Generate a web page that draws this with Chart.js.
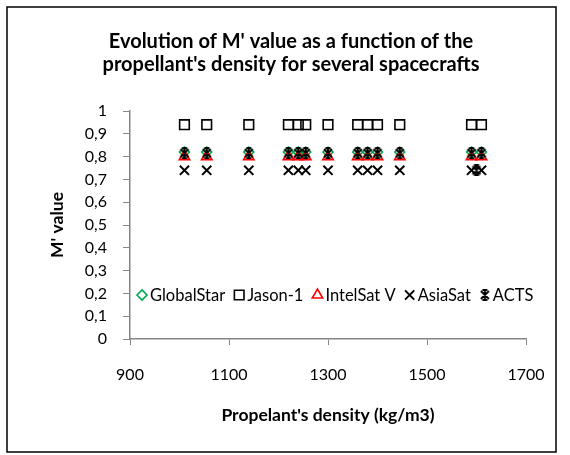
<!DOCTYPE html>
<html>
<head>
<meta charset="utf-8">
<script src="https://cdn.jsdelivr.net/npm/chart.js@4.4.0/dist/chart.umd.min.js"></script>
<style>
  html, body { margin: 0; padding: 0; background: #fff; }
  #wrap { width: 570px; height: 455px; }
</style>
</head>
<body>
<div id="wrap"><canvas id="chart" width="570" height="455"></canvas></div>
<script>
// propellant densities (kg/m3), shared by every spacecraft series
const densities = [1010, 1055, 1140, 1220, 1240, 1255, 1300, 1360, 1380, 1400, 1445, 1590, 1610]

const globalStar = [0.82, 0.82, 0.82, 0.82, 0.82, 0.82, 0.82, 0.82, 0.82, 0.82, 0.82, 0.82, 0.82]
const jason1 = [0.94, 0.94, 0.94, 0.94, 0.94, 0.94, 0.94, 0.94, 0.94, 0.94, 0.94, 0.94, 0.94]
const intelSatV = [0.80, 0.80, 0.80, 0.80, 0.80, 0.80, 0.80, 0.80, 0.80, 0.80, 0.80, 0.80, 0.80]
const asiaSat = [0.74, 0.74, 0.74, 0.74, 0.74, 0.74, 0.74, 0.74, 0.74, 0.74, 0.74, 0.74, 0.74]
const actsDensities = [1010, 1055, 1140, 1220, 1240, 1255, 1300, 1360, 1380, 1400, 1445, 1590, 1610, 1600]
const acts = [0.815, 0.815, 0.815, 0.815, 0.815, 0.815, 0.815, 0.815, 0.815, 0.815, 0.815, 0.815, 0.815, 0.74]

const xTicks = [900, 1100, 1300, 1500, 1700]
const yTickLabels = ['0', '0,1', '0,2', '0,3', '0,4', '0,5', '0,6', '0,7', '0,8', '0,9', '1']

const FONT = 'Lato'
const green = '#00A650'
const red = '#FF0000'
const axisGray = '#868686'

function toPoints(xs, ys) {
  return xs.map((x, i) => ({ x: x, y: ys[i] }))
}

// excel-like star marker: X + vertical bar with short caps
function makeStar() {
  const c = document.createElement('canvas')
  c.width = 12
  c.height = 12
  const g = c.getContext('2d')
  g.strokeStyle = '#000'
  g.lineWidth = 1.8
  g.beginPath()
  g.moveTo(2, 2); g.lineTo(10, 10)
  g.moveTo(10, 2); g.lineTo(2, 10)
  g.moveTo(6, 1); g.lineTo(6, 11)
  g.moveTo(3.5, 1); g.lineTo(8.5, 1)
  g.moveTo(3.5, 11); g.lineTo(8.5, 11)
  g.stroke()
  return c
}
const starMarker = makeStar()

// legend drawn inside the plot, lower left, like the original
const legendInPlot = {
  id: 'legendInPlot',
  afterDatasetsDraw(chart) {
    const ctx = chart.ctx
    const area = chart.chartArea
    const y = area.bottom - 44
    let x = area.left + 7
    ctx.save()
    ctx.font = '16.5px ' + FONT
    ctx.textBaseline = 'middle'
    ctx.textAlign = 'left'
    chart.data.datasets.forEach(ds => {
      ctx.strokeStyle = ds.borderColor
      ctx.fillStyle = 'rgba(0,0,0,0)'
      ctx.lineWidth = ds.pointBorderWidth
      Chart.helpers.drawPoint(ctx, {
        pointStyle: ds.pointStyle,
        radius: ds.pointRadius,
        borderWidth: ds.pointBorderWidth,
        rotation: 0,
      }, x + 5, y)
      ctx.fillStyle = '#000'
      ctx.fillText(ds.label, x + 13, y + 1)
      x += 13 + ctx.measureText(ds.label).width + 9
    })
    ctx.restore()
  },
}

const frame = {
  id: 'frame',
  // the title sits a bit right of the plot centre in the original
  afterLayout(chart) {
    const tb = chart.titleBlock
    if (tb) {
      tb.left += 18
      tb.right += 18
    }
  },
  beforeDraw(chart) {
    const ctx = chart.ctx
    ctx.save()
    ctx.fillStyle = '#fff'
    ctx.fillRect(0, 0, chart.width, chart.height)
    ctx.strokeStyle = '#000'
    ctx.lineWidth = 1.5
    ctx.strokeRect(7, 7, 549, 445)
    ctx.restore()
  },
}

new Chart(document.getElementById('chart'), {
  type: 'scatter',
  data: {
    datasets: [
      {
        label: 'GlobalStar',
        data: toPoints(densities, globalStar),
        pointStyle: 'rectRot',
        pointRadius: 5,
        pointBorderWidth: 1.6,
        borderColor: green,
        backgroundColor: 'rgba(0,0,0,0)',
        order: 5,
      },
      {
        label: 'Jason-1',
        data: toPoints(densities, jason1),
        pointStyle: 'rect',
        pointRadius: 6.8,
        pointBorderWidth: 1.6,
        borderColor: '#000',
        backgroundColor: 'rgba(0,0,0,0)',
        order: 4,
      },
      {
        label: 'IntelSat V',
        data: toPoints(densities, intelSatV),
        pointStyle: 'triangle',
        pointRadius: 6,
        pointBorderWidth: 1.6,
        borderColor: red,
        backgroundColor: 'rgba(0,0,0,0)',
        order: 3,
      },
      {
        label: 'AsiaSat',
        data: toPoints(densities, asiaSat),
        pointStyle: 'crossRot',
        pointRadius: 6.5,
        pointBorderWidth: 2,
        borderColor: '#000',
        backgroundColor: 'rgba(0,0,0,0)',
        order: 2,
      },
      {
        label: 'ACTS',
        data: toPoints(actsDensities, acts),
        pointStyle: starMarker,
        pointRadius: 6,
        pointBorderWidth: 1.8,
        borderColor: '#000',
        backgroundColor: 'rgba(0,0,0,0)',
        order: 1,
      },
    ],
  },
  options: {
    responsive: false,
    animation: false,
    events: [],
    layout: {
      padding: { top: 8, left: 20, right: 44, bottom: 10 },
    },
    scales: {
      x: {
        type: 'linear',
        min: xTicks[0],
        max: xTicks[xTicks.length - 1],
        afterFit: (s) => { s.height = 106 },
        afterBuildTicks: (s) => { s.ticks = xTicks.map(v => ({ value: v })) },
        grid: { drawOnChartArea: false, drawTicks: true, tickLength: 6, color: axisGray },
        border: { color: axisGray, width: 1.5 },
        ticks: {
          color: '#000',
          padding: 20,
          maxRotation: 0,
          font: { family: FONT, size: 16 },
          callback: (v) => String(v),
        },
        title: {
          display: true,
          text: "Propelant's density (kg/m3)",
          color: '#000',
          padding: { top: 0, bottom: 19.5 },
          font: { family: FONT, size: 17.5, weight: 'bold' },
        },
      },
      y: {
        min: 0,
        max: 1,
        afterFit: (s) => { s.width = 110 },
        ticks: {
          stepSize: 0.1,
          color: '#000',
          padding: 16,
          font: { family: FONT, size: 16 },
          callback: (v, i) => yTickLabels[i],
        },
        grid: { drawOnChartArea: false, drawTicks: true, tickLength: 7, color: axisGray },
        border: { color: axisGray, width: 1.5 },
        title: {
          display: true,
          text: "M' value",
          color: '#000',
          padding: { top: 26.5, bottom: 0 },
          font: { family: FONT, size: 17.5, weight: 'bold' },
        },
      },
    },
    plugins: {
      legend: { display: false },
      tooltip: { enabled: false },
      title: {
        display: true,
        text: ["Evolution of M' value as a function of the", "propellant's density for several spacecrafts"],
        color: '#000',
        padding: { top: 22.5, bottom: 34.5 },
        font: { family: FONT, size: 20, weight: 'bold', lineHeight: 1.15 },
      },
    },
  },
  plugins: [frame, legendInPlot],
})
</script>
</body>
</html>
